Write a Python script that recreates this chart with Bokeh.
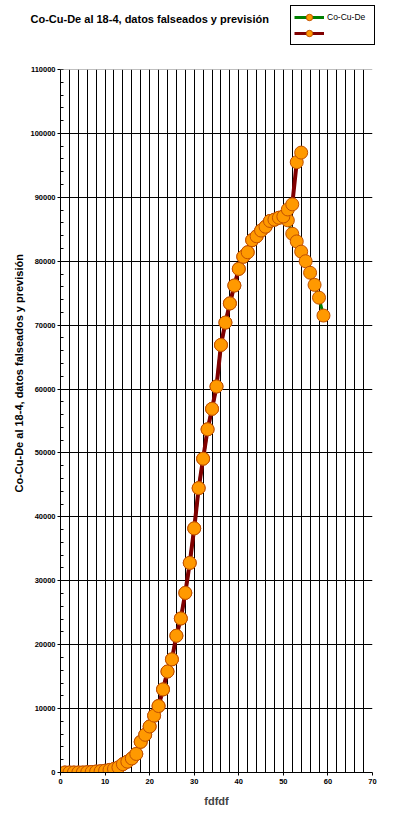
from bokeh.plotting import figure
from bokeh.models import (Range1d, FixedTicker, NumeralTickFormatter, Label, Legend,
                          LegendItem, Span, Title)
from bokeh.embed import file_html
from bokeh.resources import INLINE

# ---------------- data ----------------
title_text = "Co-Cu-De al 18-4, datos falseados y previsión"
x_label = "fdfdf"
series1_name = "Co-Cu-De"
series2_name = " "

days_shared = list(range(1, 51))
vals_shared = [0, 0, 0, 0, 0, 50, 80, 150, 200, 280,
               400, 550, 800, 1300, 1700, 2200, 2900, 4800, 5900, 7200,
               8900, 10400, 13000, 15800, 17700, 21400, 24100, 28100, 32800, 38200,
               44500, 49100, 53700, 56900, 60400, 66900, 70400, 73400, 76200, 78800,
               80700, 81400, 83300, 83900, 84800, 85400, 86300, 86500, 86800, 87000]

# series 2 ("datos falseados") continues upward
days_s2_tail = [51, 52, 53, 54]
vals_s2_tail = [88100, 88900, 95500, 97000]

# series 1 ("previsión") continues downward
days_s1_tail = [51, 52, 53, 54, 55, 56, 57, 58, 59]
vals_s1_tail = [86400, 84300, 83100, 81500, 80000, 78200, 76300, 74300, 71500]

x_major = list(range(0, 71, 10))
x_minor = list(range(0, 71, 2))
y_major = list(range(0, 110001, 10000))
y_minor = list(range(0, 110001, 2000))

s1_x = days_shared + days_s1_tail
s1_y = vals_shared + vals_s1_tail
s2_x = days_shared + days_s2_tail
s2_y = vals_shared + vals_s2_tail

FONT = "Liberation Sans"
GREEN = "#008000"
DARKRED = "#800000"
ORANGE = "#FF9900"
MK_EDGE = "#C05000"

W = 377
HEAD_H = 63
MAIN_H = 750
NAN = [float("nan")]

# ---------------- header (title + legend) ----------------
h = figure(width=W, height=HEAD_H, output_backend="svg", toolbar_location=None,
           x_range=Range1d(0, W), y_range=Range1d(0, HEAD_H),
           x_axis_type=None, y_axis_type=None,
           min_border_left=0, min_border_right=0, min_border_top=0, min_border_bottom=0,
           background_fill_color="white", border_fill_color="white")
h.outline_line_color = None
h.xgrid.visible = False
h.ygrid.visible = False

h.add_layout(Label(x=30, y=HEAD_H - 18, text=title_text,
                   text_font=FONT, text_font_size="11px", text_font_style="bold",
                   text_baseline="middle", text_align="left", text_color="black"))

# legend proxies (no visible data in the header)
lg_g_line = h.line(NAN, NAN, line_color=GREEN, line_width=3)
lg_g_pts = h.scatter(NAN, NAN, marker="circle", size=8, fill_color=ORANGE, line_color=MK_EDGE)
lg_r_line = h.line(NAN, NAN, line_color=DARKRED, line_width=3)
lg_r_pts = h.scatter(NAN, NAN, marker="circle", size=8, fill_color=ORANGE, line_color=MK_EDGE)

legend = Legend(items=[LegendItem(label=series1_name, renderers=[lg_g_line, lg_g_pts]),
                       LegendItem(label=series2_name, renderers=[lg_r_line, lg_r_pts])],
                location=(290, HEAD_H - 45), orientation="vertical",
                padding=3, spacing=0, margin=0,
                glyph_width=30, glyph_height=16, label_height=16, label_width=44,
                label_standoff=3,
                label_text_font=FONT, label_text_font_size="8.5px",
                label_text_color="black",
                border_line_color="black", border_line_width=1, border_line_alpha=1,
                background_fill_color="white", background_fill_alpha=1)
h.add_layout(legend)

# ---------------- main chart ----------------
p = figure(width=W, height=MAIN_H, output_backend="svg", toolbar_location=None,
           x_range=Range1d(0, 70), y_range=Range1d(0, 110000),
           min_border_left=60, min_border_right=5, min_border_top=6, min_border_bottom=41,
           background_fill_color="white", border_fill_color="white")
p.outline_line_color = None

p.xaxis.ticker = FixedTicker(ticks=x_major, minor_ticks=x_minor)
p.yaxis.ticker = FixedTicker(ticks=y_major, minor_ticks=y_minor)
p.xgrid.grid_line_color = "black"
p.xgrid.minor_grid_line_color = "black"
p.ygrid.grid_line_color = "black"
p.ygrid.minor_grid_line_color = None

p.add_layout(Span(location=y_major[-1], dimension="width", line_color="#808080", line_width=1))

for ax in (p.xaxis[0], p.yaxis[0]):
    ax.axis_line_color = "black"
    ax.axis_line_width = 1
    ax.major_tick_line_color = "black"
    ax.major_tick_out = 3
    ax.major_tick_in = 0
    ax.major_label_text_font = FONT
    ax.major_label_text_font_size = "7.5px"
    ax.major_label_text_font_style = "bold"
    ax.major_label_text_color = "black"
    ax.major_label_standoff = 2

p.xaxis.minor_tick_line_color = None
p.yaxis.minor_tick_line_color = "black"
p.yaxis.minor_tick_in = 3
p.yaxis.minor_tick_out = 0
p.yaxis.formatter = NumeralTickFormatter(format="0")
p.xaxis.formatter = NumeralTickFormatter(format="0")

p.xaxis.axis_label = x_label
p.xaxis.axis_label_text_font = FONT
p.xaxis.axis_label_text_font_size = "11px"
p.xaxis.axis_label_text_font_style = "bold"
p.xaxis.axis_label_standoff = 8

p.add_layout(Title(text=title_text, align="left", offset=280, standoff=6,
                   text_font=FONT, text_font_size="11px", text_font_style="bold",
                   text_color="black"), "left")

p.line(s1_x, s1_y, line_color=GREEN, line_width=3)
p.line(s2_x, s2_y, line_color=DARKRED, line_width=4)
mk = dict(marker="circle", size=13, fill_color=ORANGE, line_color=MK_EDGE, line_width=1)
p.scatter(s1_x, s1_y, **mk)
p.scatter(s2_x, s2_y, **mk)

open("out.html", "w").write(file_html([h, p], INLINE))
